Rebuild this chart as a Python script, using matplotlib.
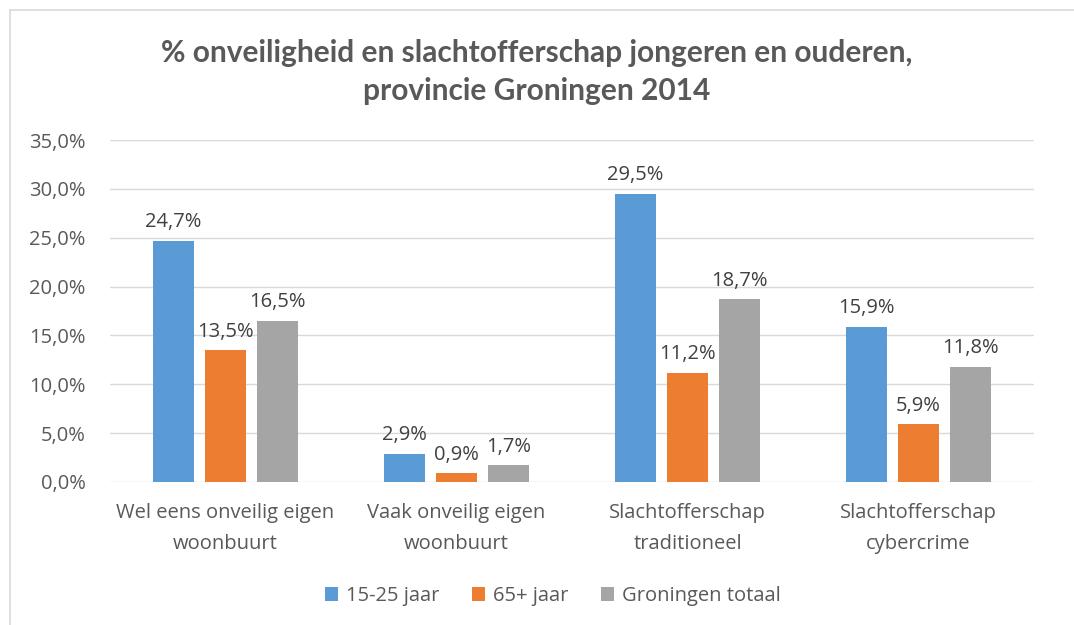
import numpy as np
import matplotlib.pyplot as plt
from matplotlib.lines import Line2D

# chart data
categories = ['Wel eens onveilig eigen\nwoonbuurt', 'Vaak onveilig eigen\nwoonbuurt',
              'Slachtofferschap\ntraditioneel', 'Slachtofferschap\ncybercrime']
series_names = ['15-25 jaar', '65+ jaar', 'Groningen totaal']
jong = [24.7, 2.9, 29.5, 15.9]
oud = [13.5, 0.9, 11.2, 5.9]
totaal = [16.5, 1.7, 18.7, 11.8]
yticks = [0, 5, 10, 15, 20, 25, 30, 35]
title = '% onveiligheid en slachtofferschap jongeren en ouderen,\nprovincie Groningen 2014'

colors = ['#5B9BD5', '#ED7D31', '#A5A5A5']
txt = '#595959'
fs = 14.5

plt.rcParams['font.family'] = ['Open Sans', 'DejaVu Sans']

fig = plt.figure(figsize=(10.74, 6.25), dpi=100)
ax = fig.add_axes([110 / 1074, 143 / 625, 924 / 1074, 342 / 625])

# outer chart frame (top and left edges visible)
fig.add_artist(Line2D([9.5 / 1074, 9.5 / 1074], [0, 1 - 9.5 / 625], color='#D9D9D9', lw=1.2))
fig.add_artist(Line2D([9.5 / 1074, 1], [1 - 9.5 / 625, 1 - 9.5 / 625], color='#D9D9D9', lw=1.2))

x = np.arange(len(categories))
w = 0.178
step = 0.225
for i, vals in enumerate([jong, oud, totaal]):
    pos = x + (i - 1) * step
    bars = ax.bar(pos, vals, width=w, color=colors[i], label=series_names[i], zorder=3)
    for b, v in zip(bars, vals):
        ax.annotate(('%.1f%%' % v).replace('.', ','), (b.get_x() + b.get_width() / 2, v),
                    xytext=(0, 6), textcoords='offset points', ha='center', va='bottom',
                    fontsize=fs, color='#404040')

ax.set_xlim(-0.5, len(categories) - 0.5)
ax.set_ylim(0, 35)
ax.set_yticks(yticks)
ax.set_yticklabels([('%.1f%%' % t).replace('.', ',') for t in yticks])
ax.set_xticks(x)
ax.set_xticklabels(categories, linespacing=1.75)
ax.tick_params(axis='both', length=0, labelsize=fs, colors=txt)
ax.tick_params(axis='y', pad=17.5)
ax.tick_params(axis='x', pad=15)
ax.grid(axis='y', color='#D9D9D9', lw=1, zorder=0)
for s in ax.spines.values():
    s.set_visible(False)

fig.text(0.5, 1 - 72 / 625, title, ha='center', va='center', fontsize=21.5,
         fontweight='bold', color=txt, linespacing=1.4, family=['Lato', 'DejaVu Sans'])

ax.legend(loc='center', bbox_to_anchor=(553 / 1074, 1 - 596 / 625),
          bbox_transform=fig.transFigure, ncol=3, frameon=False, fontsize=fs,
          handlelength=0.65, handleheight=0.65, handletextpad=0.4, columnspacing=1.6,
          labelcolor=txt)

fig.savefig('out.png', dpi=100)
